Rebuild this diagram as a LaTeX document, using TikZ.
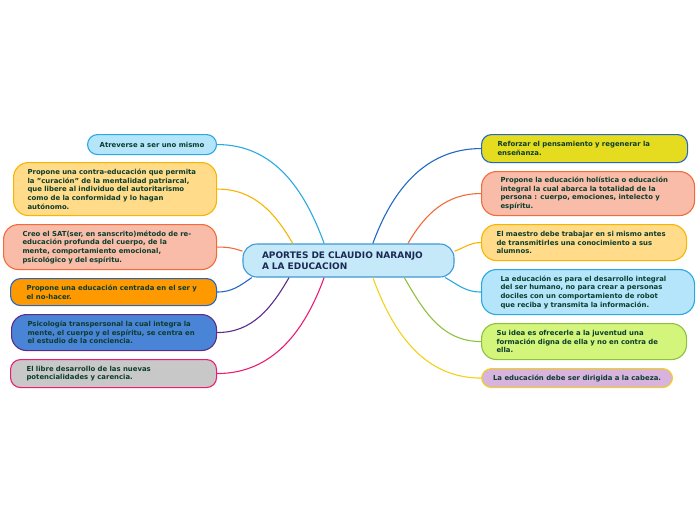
\documentclass[tikz,border=0pt]{standalone}
\usepackage{fontspec}
\setmainfont{DejaVu Sans}
\usepackage{tikz}
\usepackage{xcolor}
\usetikzlibrary{positioning}
\definecolor{ink}      {HTML}{0B3D2C}
\definecolor{navy}     {HTML}{1B2A55}
\definecolor{skybg}    {HTML}{B5E5FA}
\definecolor{skyln}    {HTML}{29A9E1}
\definecolor{mainbg}   {HTML}{C6E9FA}
\definecolor{mainln}   {HTML}{3C9AD6}
\definecolor{peachbg}  {HTML}{F8BCA9}
\definecolor{peachln}  {HTML}{F26B3A}
\definecolor{sandbg}   {HTML}{FFDB8A}
\definecolor{sandln}   {HTML}{F7B500}
\definecolor{orangebg} {HTML}{FF9900}
\definecolor{blueln}   {HTML}{2168C6}
\definecolor{bluebg}   {HTML}{4A84D6}
\definecolor{purpleln} {HTML}{5C2D88}
\definecolor{graybg}   {HTML}{C8C8C8}
\definecolor{pinkln}   {HTML}{E91E72}
\definecolor{mustbg}   {HTML}{E5DB1F}
\definecolor{limebg}   {HTML}{D3F57B}
\definecolor{limeln}   {HTML}{8DC23E}
\definecolor{lilacbg}  {HTML}{D7B3DE}
\definecolor{goldln}   {HTML}{F2D11B}
\tikzset{
  topic/.style    ={draw, line width=1.1pt, rounded corners=10pt,
                    anchor=north west, align=left, text=ink,
                    font=\fontsize{6.9}{8.7}\selectfont\bfseries,
                    inner xsep=4pt, inner ysep=2pt},
  tall/.style     ={rounded corners=15pt},
  maintopic/.style={draw=mainln, fill=mainbg, line width=1.1pt,
                    rounded corners=14pt, align=left, text=navy,
                    text width=173pt, inner xsep=19pt,
                    minimum height=33pt,
                    font=\fontsize{9}{11}\selectfont\bfseries},
  link/.style     ={line width=1.1pt},
}

\begin{document}
\begin{tikzpicture}[x=1pt,y=1pt]
  \useasboundingbox (0,0) rectangle (696,-520);

  \node[maintopic] (main) at (348.5,-260.5)
    {APORTES DE CLAUDIO NARANJO\\A LA EDUCACION};

  % left side
  \node[topic, draw=skyln, fill=skybg, minimum width=129pt, minimum height=20pt]
    (atrev) at (87,-134) {Atreverse a ser uno mismo};
  \node[topic, tall, draw=sandln, fill=sandbg, text width=175pt, inner xsep=14pt,
        minimum height=53pt]
    (contra) at (13,-162)
    {Propone una contra-educación que permita\\la "curación" de la mentalidad patriarcal,\\que libere al individuo del autoritarismo\\como de la conformidad y lo hagan\\autónomo.};
  \node[topic, tall, draw=peachln, fill=peachbg, text width=175pt, inner xsep=19pt,
        minimum height=45pt]
    (sat) at (3,-224)
    {Creo el SAT(ser, en sanscrito)método de re-\\educación profunda del cuerpo, de la\\mente, comportamiento emocional,\\psicológico y del espíritu.};
  \node[topic, draw=blueln, fill=orangebg, text width=174pt, inner xsep=16pt,
        minimum height=27pt]
    (nohacer) at (10,-278)
    {Propone una educación centrada en el ser y\\el no-hacer.};
  \node[topic, tall, draw=purpleln, fill=bluebg, text width=173pt, inner xsep=16pt,
        minimum height=36pt]
    (transp) at (11,-314)
    {Psicología transpersonal la cual integra la\\mente, el cuerpo y el espíritu, se centra en\\el estudio de la conciencia.};
  \node[topic, draw=pinkln, fill=graybg, text width=174pt, inner xsep=16pt,
        minimum height=28pt]
    (libre) at (10,-359)
    {El libre desarrollo de las nuevas\\potencialidades y carencia.};

  % right side
  \node[topic, draw=blueln, fill=mustbg, text width=174pt, inner xsep=16pt,
        minimum height=28pt]
    (reforzar) at (481,-134)
    {Reforzar el pensamiento y regenerar la\\enseñanza.};
  \node[topic, tall, draw=peachln, fill=peachbg, text width=175pt, inner xsep=19pt,
        minimum height=44pt]
    (holis) at (481,-171)
    {Propone la educación holística o educación\\integral la cual abarca la totalidad de la\\persona : cuerpo, emociones, intelecto y\\espíritu.};
  \node[topic, tall, draw=sandln, fill=sandbg, text width=175pt, inner xsep=15pt,
        minimum height=36pt]
    (maestro) at (481,-224)
    {El maestro debe trabajar en si mismo antes\\de transmitirles una conocimiento a sus\\alumnos.};
  \node[topic, tall, draw=skyln, fill=skybg, text width=175pt, inner xsep=19pt,
        minimum height=45pt]
    (integral) at (481,-269)
    {La educación es para el desarrollo integral\\del ser humano, no para crear a personas\\dociles con un comportamiento de robot\\que reciba y transmita la información.};
  \node[topic, tall, draw=limeln, fill=limebg, text width=175pt, inner xsep=15pt,
        minimum height=36pt]
    (juventud) at (481,-323)
    {Su idea es ofrecerle a la juventud una\\formación digna de ella y no en contra de\\ella.};
  \node[topic, draw=goldln, fill=lilacbg, minimum width=191pt, minimum height=19pt]
    (cabeza) at (481,-368)
    {La educación debe ser dirigida a la cabeza.};

  % connectors
  \draw[link, skyln]    (main.145)   to[out=110,in=0] (atrev.east);
  \draw[link, sandln]   (main.163.4) to[out=120,in=0] (contra.east);
  \draw[link, peachln]  (main.175)   to[out=160,in=0] (sat.east);
  \draw[link, blueln]   (main.190)   to[out=215,in=0] (nohacer.east);
  \draw[link, purpleln] (main.196.6) to[out=240,in=0] (transp.east);
  \draw[link, pinkln]   (main.215)   to[out=250,in=0] (libre.east);
  \draw[link, blueln]   (main.35)    to[out=70,in=180]  (reforzar.west);
  \draw[link, peachln]  (main.16.6)  to[out=60,in=180]  (holis.west);
  \draw[link, sandln]   (main.5)     to[out=20,in=180]  (maestro.west);
  \draw[link, skyln]    (main.350)   to[out=-30,in=180] (integral.west);
  \draw[link, limeln]   (main.343.4) to[out=-60,in=180] (juventud.west);
  \draw[link, goldln]   (main.325)   to[out=-70,in=180] (cabeza.west);
\end{tikzpicture}
\end{document}
